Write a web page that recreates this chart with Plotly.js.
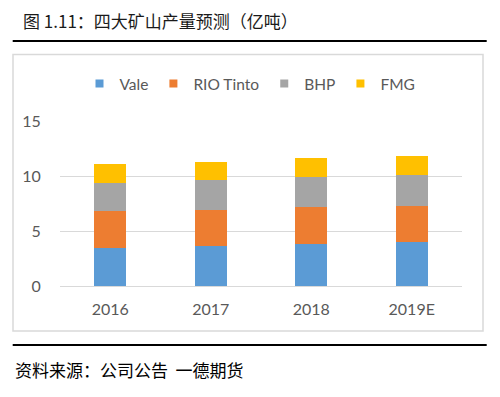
<!DOCTYPE html>
<html>
<head>
<meta charset="utf-8">
<script src="https://cdn.plot.ly/plotly-3.0.1.min.js"></script>
<style>html,body{margin:0;padding:0;background:#fff;}#chart{width:500px;height:397px;}</style>
</head>
<body>
<div id="chart"></div>
<script>
const categories = ["2016", "2017", "2018", "2019E"];
const seriesNames = ["Vale", "RIO Tinto", "BHP", "FMG"];
const vale = [3.45, 3.60, 3.85, 3.97];
const rio = [3.34, 3.28, 3.33, 3.30];
const bhp = [2.55, 2.73, 2.73, 2.79];
const fmg = [1.72, 1.69, 1.70, 1.73];
const colors = ["#5b9bd5", "#ed7d31", "#a5a5a5", "#ffc000"];
const titleText = "图 1.11：四大矿山产量预测（亿吨）";
const sourceText = "资料来源：公司公告  一德期货";

const latin = "Lato, 'Noto Sans', sans-serif";
const cjk = "'Noto Sans CJK SC', sans-serif";

const values = [vale, rio, bhp, fmg];
const barTraces = values.map((v, i) => ({
  type: "bar",
  name: seriesNames[i],
  legendgroup: seriesNames[i],
  showlegend: false,
  x: categories,
  y: v,
  marker: {color: colors[i]},
  hoverinfo: "x+y+name"
}));
// legend entries with small square swatches, same series
const legendTraces = seriesNames.map((n, i) => ({
  type: "scatter", mode: "markers",
  name: n, legendgroup: n, showlegend: true,
  x: [null], y: [null],
  marker: {symbol: "square", size: 8, color: colors[i]},
  hoverinfo: "skip"
}));

const figH = 397, plotTop = 121, plotBottom = 286, plotH = plotBottom - plotTop, plotLeft = 60, plotW = 402;
const py = (pix) => (plotBottom - pix) / plotH;
const px = (pix) => (pix - plotLeft) / plotW;

const layout = {
  width: 500, height: 397,
  margin: {l: 60, r: 38, t: plotTop, b: figH - plotBottom},
  paper_bgcolor: "#ffffff",
  plot_bgcolor: "#ffffff",
  barmode: "stack",
  bargap: 0.68,
  font: {family: latin, size: 15, color: "#595959"},
  showlegend: true,
  legend: {
    orientation: "h", xref: "container", yref: "container",
    x: 0.5, xanchor: "center", y: 1 - 84/397, yanchor: "middle",
    font: {family: latin, size: 15.5, color: "#595959"},
    itemwidth: 30, tracegroupgap: 0, traceorder: "normal", itemsizing: "trace"
  },
  xaxis: {
    type: "category", showgrid: false, zeroline: false, showline: false,
    ticks: "outside", ticklen: 9, tickcolor: "rgba(0,0,0,0)",
    tickfont: {family: latin, size: 16, color: "#595959"}
  },
  yaxis: {
    range: [0, 15], dtick: 5, tick0: 0, showgrid: true, gridcolor: "#d9d9d9", gridwidth: 1,
    zeroline: true, zerolinecolor: "#d9d9d9", zerolinewidth: 1, showline: false,
    ticks: "outside", ticklen: 15, tickcolor: "rgba(0,0,0,0)",
    tickfont: {family: latin, size: 16, color: "#595959"}
  },
  shapes: [
    {type: "line", xref: "paper", yref: "paper", x0: px(12.7), x1: px(486.7), y0: py(41), y1: py(41),
     line: {color: "#000000", width: 2}},
    {type: "rect", xref: "paper", yref: "paper", x0: px(13), x1: px(483), y0: py(331), y1: py(54.5),
     line: {color: "#d9d9d9", width: 1.5}, fillcolor: "rgba(0,0,0,0)", layer: "below"},
    {type: "line", xref: "paper", yref: "paper", x0: px(12.7), x1: px(486.7), y0: py(345), y1: py(345),
     line: {color: "#000000", width: 2}}
  ],
  annotations: [
    {text: titleText, xref: "paper", yref: "paper", x: px(21), xanchor: "left", y: py(20.5), yanchor: "middle",
     showarrow: false, font: {family: cjk, size: 17, color: "#1a1a1a"}},
    {text: sourceText, xref: "paper", yref: "paper", x: px(13), xanchor: "left", y: py(369), yanchor: "middle",
     showarrow: false, font: {family: cjk, size: 17, color: "#000000"}}
  ]
};

Plotly.newPlot("chart", barTraces.concat(legendTraces), layout, {displayModeBar: false, staticPlot: true});
</script>
</body>
</html>
